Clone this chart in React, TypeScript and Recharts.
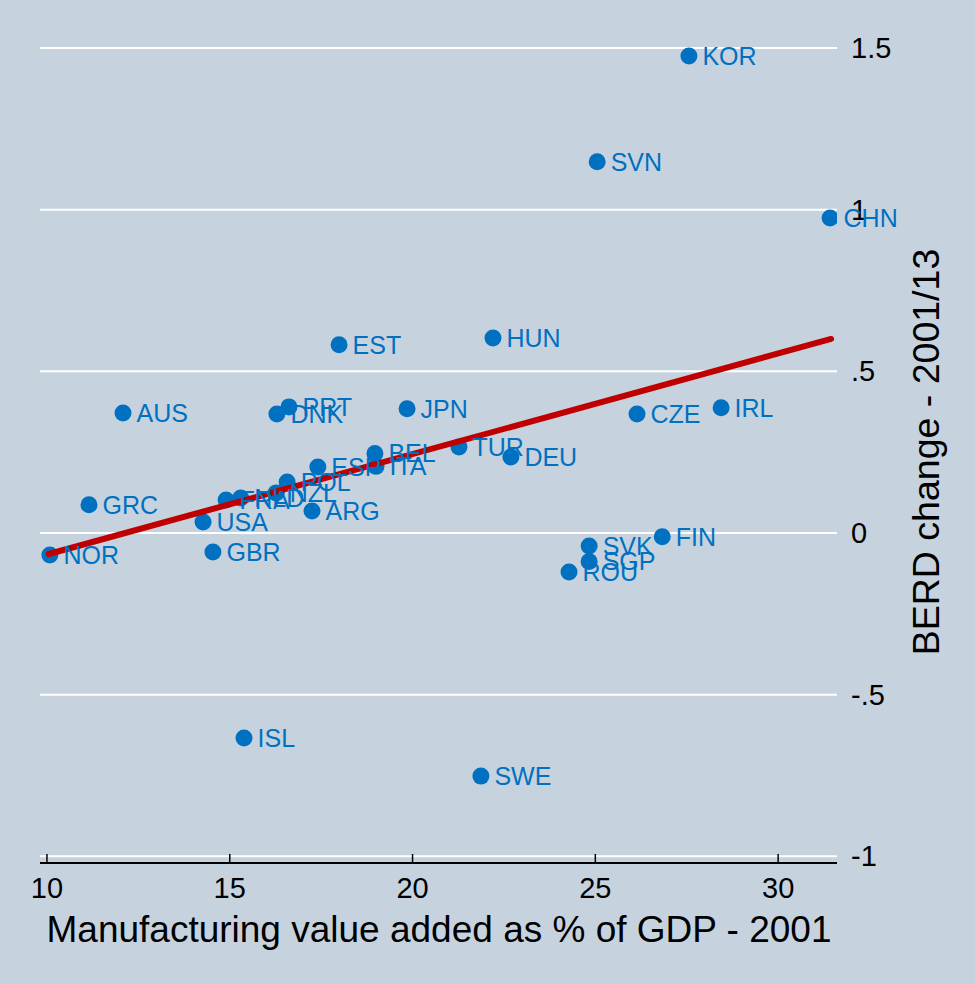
import React from 'react';
import { ScatterChart, Scatter, XAxis, YAxis, CartesianGrid, LabelList } from 'recharts';

const countries = ['KOR', 'SVN', 'CHN', 'EST', 'HUN', 'AUS', 'PRT', 'DNK', 'JPN', 'CZE', 'IRL', 'TUR', 'DEU', 'BEL', 'ITA', 'ESP', 'POL', 'NZL', 'FRA', 'NLD', 'ARG', 'USA', 'GRC', 'NOR', 'GBR', 'SVK', 'SGP', 'ROU', 'FIN', 'ISL', 'SWE'];
const manufShare = [27.56, 25.05, 31.42, 17.99, 22.2, 12.08, 16.62, 16.29, 19.85, 26.14, 28.44, 21.27, 22.69, 18.97, 19.0, 17.41, 16.57, 16.27, 14.9, 15.3, 17.25, 14.27, 11.15, 10.08, 14.54, 24.83, 24.83, 24.28, 26.83, 15.39, 21.87];
const berdChange = [1.475, 1.148, 0.974, 0.582, 0.603, 0.371, 0.39, 0.368, 0.384, 0.368, 0.387, 0.266, 0.235, 0.246, 0.206, 0.204, 0.158, 0.124, 0.102, 0.108, 0.068, 0.034, 0.087, -0.068, -0.059, -0.04, -0.088, -0.121, -0.012, -0.634, -0.752];

const fitX = [10.05, 31.45];
const fitY = [-0.065, 0.6];

const xTicks = [10, 15, 20, 25, 30];
const yTicks = [-1, -0.5, 0, 0.5, 1, 1.5];

const points = countries.map((name, i) => ({ name, x: manufShare[i], y: berdChange[i] }));
const fitLine = fitX.map((x, i) => ({ x, y: fitY[i] }));

const BG = '#C6D3DF';
const BLUE = '#0070C0';
const RED = '#C00000';
const FONT = '"Liberation Sans", Arial, sans-serif';

const fmtY = (v: number) => {
  if (v === 0) return '0';
  const s = String(v);
  return s.replace(/^(-?)0\./, '$1.');
};

const XTick = (props: any) => {
  const { x, y, payload } = props;
  return (
    <g>
      <line x1={x} x2={x} y1={y} y2={y - 9} stroke="#000" strokeWidth={1.5} />
      <text x={x} y={y + 35} textAnchor="middle" fontSize={29} fontFamily={FONT} fill="#000">
        {payload.value}
      </text>
    </g>
  );
};

const YTick = (props: any) => {
  const { x, y, payload } = props;
  return (
    <text x={x} y={y + 10} textAnchor="start" fontSize={29} fontFamily={FONT} fill="#000">
      {fmtY(payload.value)}
    </text>
  );
};

const Dot = (props: any) => <circle cx={props.cx} cy={props.cy} r={8.5} fill={BLUE} />;

export default function App() {
  return (
    <div style={{ position: 'absolute', left: 0, top: 0, width: 975, height: 984, background: BG }}>
      <ScatterChart width={975} height={984} margin={{ top: 15, right: 58, left: 40, bottom: 61 }}>
        <CartesianGrid vertical={false} stroke="#FFFFFF" strokeWidth={2} horizontalValues={yTicks} />
        <XAxis
          type="number"
          dataKey="x"
          domain={[9.81, 31.61]}
          ticks={xTicks}
          allowDataOverflow
          height={60}
          tickSize={0}
          tickMargin={0}
          tickLine={false}
          axisLine={{ stroke: '#000', strokeWidth: 2 }}
          tick={<XTick />}
          label={{
            content: () => (
              <text x={439} y={942} textAnchor="middle" fontSize={37} fontFamily={FONT} fill="#000">
                Manufacturing value added as % of GDP - 2001
              </text>
            ),
          }}
        />
        <YAxis
          type="number"
          dataKey="y"
          orientation="right"
          domain={[-1.0207, 1.602]}
          ticks={yTicks}
          allowDataOverflow
          width={80}
          tickSize={0}
          tickMargin={14}
          tickLine={false}
          axisLine={false}
          tick={<YTick />}
          label={{
            content: () => (
              <text
                x={939}
                y={452}
                textAnchor="middle"
                fontSize={37.5}
                fontFamily={FONT}
                fill="#000"
                transform="rotate(-90 939 452)"
              >
                BERD change - 2001/13
              </text>
            ),
          }}
        />
        <Scatter data={points} fill={BLUE} shape={<Dot />} isAnimationActive={false}>
          <LabelList
            dataKey="name"
            position="right"
            offset={9}
            fill={BLUE}
            fontSize={25}
            fontFamily={FONT}
          />
        </Scatter>
        <Scatter
          data={fitLine}
          line={{ stroke: RED, strokeWidth: 6, strokeLinecap: 'round' }}
          shape={() => <g />}
          isAnimationActive={false}
        />
      </ScatterChart>
    </div>
  );
}
